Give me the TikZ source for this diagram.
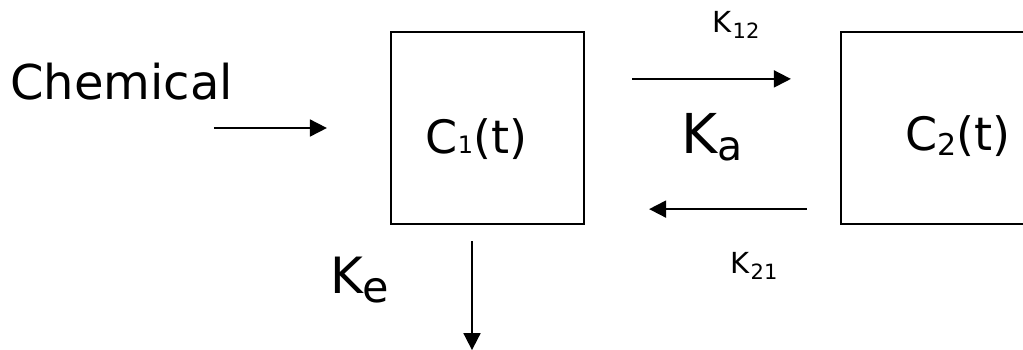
\documentclass[tikz,border=0pt]{standalone}
\usepackage{fontspec}
\setmainfont{DejaVu Sans}
\usetikzlibrary{arrows.meta,calc}
\newcommand\lsub[3]{\raisebox{-#2pt}{\fontsize{#1}{#1}\selectfont #3}}
\newcommand\fs[1]{\fontsize{#1}{#1}\selectfont}
\tikzset{
  compbox/.style={draw=black, line width=2.2pt, minimum width=193pt, minimum height=192pt, inner sep=0pt},
  lbl/.style={anchor=base west, inner sep=0pt, text=black},
  arr/.style={line width=1.8pt, -{Triangle[length=17pt,width=17pt]}}
}
\begin{document}
\begin{tikzpicture}[x=1pt,y=-1pt]
\useasboundingbox (0,0) rectangle (1023,349);
\clip (0,0) rectangle (1023,349);
\node[compbox] (box1) at (487.5,128) {};
\node[compbox] (box2) at (937.5,128) {};
\node[lbl] (chem) at (10,99) {\fs{48}Chemical};
\node[lbl] (c1) at (425.5,153) {\fs{46}C\lsub{24}{0}{1}(t)};
\node[lbl] (c2) at (905,150) {\fs{46}C\lsub{30}{5}{2}(t)};
\node[lbl] (k12) at (712,32) {\fs{29}K\kern1.5pt\lsub{21}{6}{12}};
\node[lbl] (k21) at (730,273) {\fs{29}K\kern1.5pt\lsub{21}{6}{21}};
\node[lbl] (ka) at (681.5,153) {\fs{55}K\lsub{41}{7}{a}};
\node[lbl] (ke) at (330,293) {\fs{50}K\lsub{43}{9}{e}};
\coordinate (inS) at ($(box1.west)+(-176,0)$);
\coordinate (inE) at ($(box1.west)+(-63,0)$);
\draw[arr] (inS) -- (inE);
\draw[arr, shorten <=47pt, shorten >=49pt] ($(box1.north east)+(0,48)$) -- ($(box2.north west)+(0,48)$);
\draw[arr, shorten <=33pt, shorten >=64pt] ($(box2.south west)+(0,-16)$) -- ($(box1.south east)+(0,-16)$);
\coordinate (outE) at ($(box1.south)+(-15.5,125)$);
\draw[arr, shorten <=16pt] ($(box1.south)+(-15.5,0)$) -- (outE);
\end{tikzpicture}
\end{document}
